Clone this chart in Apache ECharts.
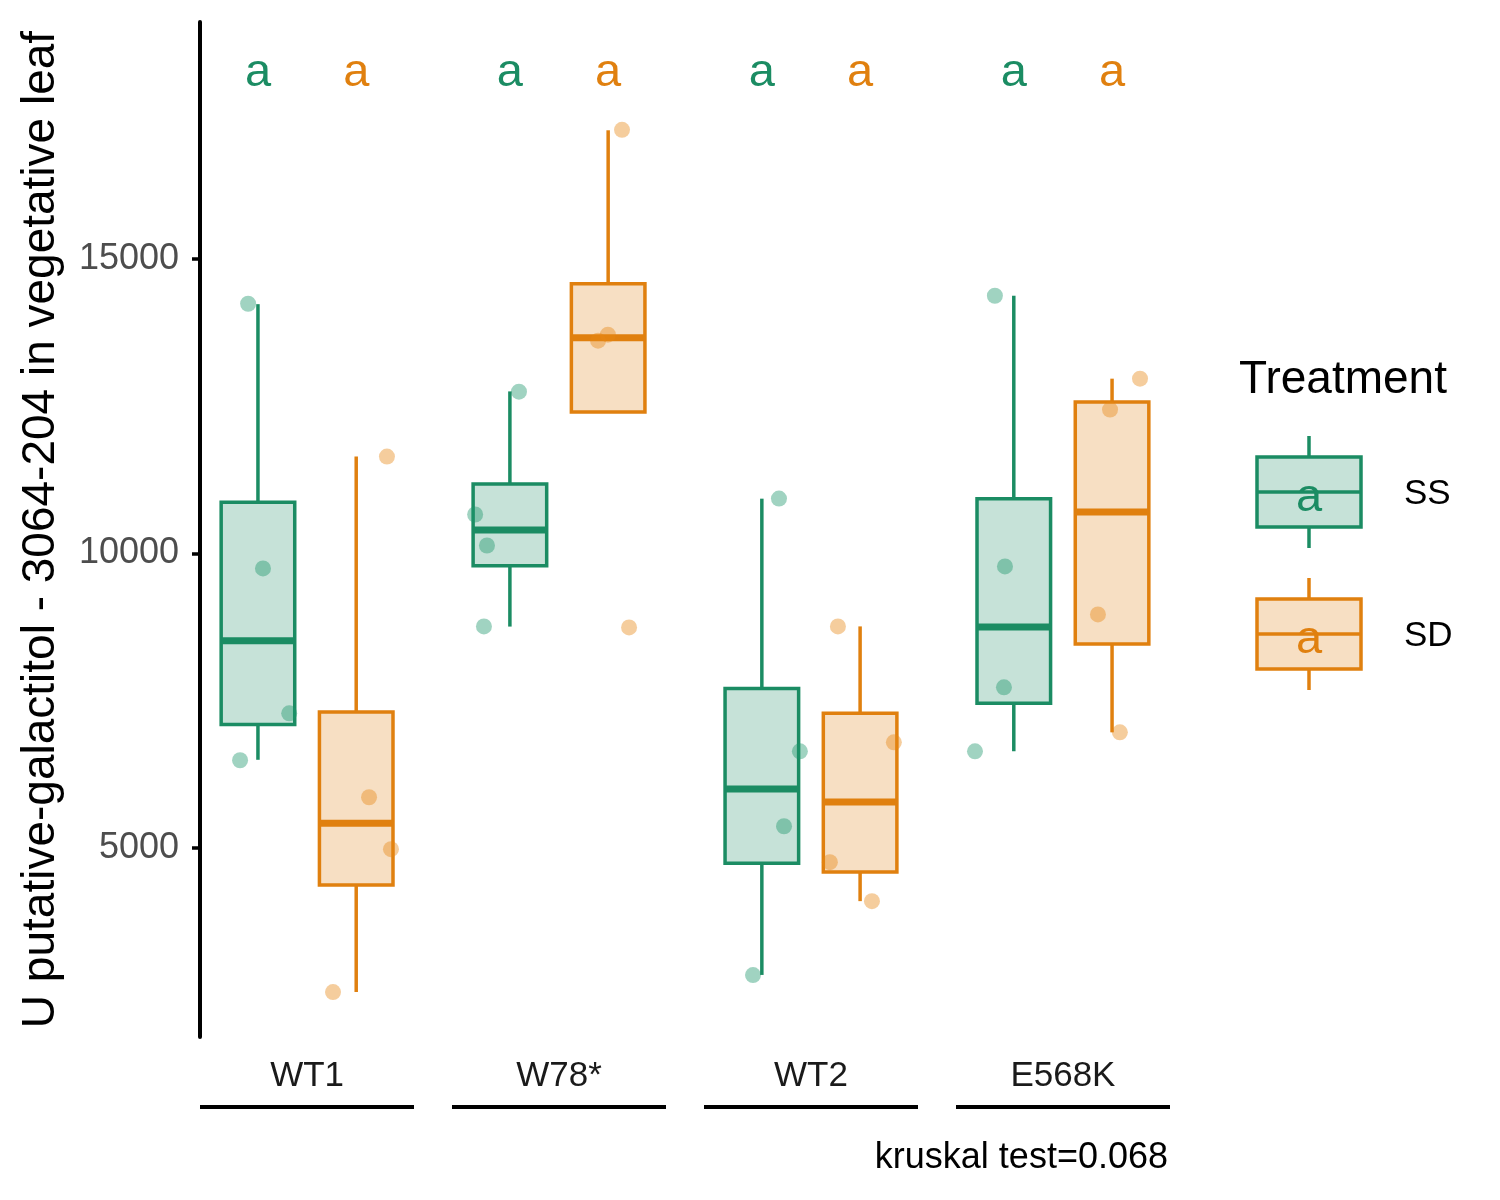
<!DOCTYPE html>
<html>
<head>
<meta charset="utf-8">
<script src="https://cdn.jsdelivr.net/npm/echarts@6/dist/echarts.min.js"></script>
<style>html,body{margin:0;padding:0;background:#fff}#c{width:1500px;height:1200px}</style>
</head>
<body>
<div id="c"></div>
<script>
// ---- data ----
const categories = ['WT1', 'W78*', 'WT2', 'E568K'];
const treatments = ['SS', 'SD'];
const yTicks = [5000, 10000, 15000];
// box stats per category: [lowerWhisker, Q1, median, Q3, upperWhisker]
const boxSS = [
  [6500, 7100, 8520, 10870, 14230],
  [8760, 9790, 10400, 11180, 12750],
  [2850, 4745, 6005, 7710, 10930],
  [6645, 7458, 8752, 10930, 14373]
];
const boxSD = [
  [2560, 4376, 5424, 7310, 11644],
  [12400, 12400, 13660, 14575, 17180],
  [4102, 4597, 5785, 7288, 8763],
  [6966, 8463, 10703, 12572, 12966]
];
// jittered points: values and horizontal jitter offsets (in category units)
const ptsSS = [
  [14237, 9746, 7288, 6492],
  [12746, 10661, 10136, 8763],
  [10932, 6644, 5373, 2847],
  [14373, 9780, 7729, 6644]
];
const jitSS = [
  [-0.234, -0.175, -0.071, -0.266],
  [-0.159, -0.333, -0.286, -0.298],
  [-0.127, -0.044, -0.107, -0.230],
  [-0.270, -0.230, -0.234, -0.349]
];
const ptsSD = [
  [11644, 5864, 4983, 2559],
  [17187, 13712, 13611, 8746],
  [8763, 6797, 4763, 4102],
  [12966, 12441, 8966, 6966]
];
const jitSD = [
  [0.317, 0.246, 0.333, 0.103],
  [0.250, 0.194, 0.155, 0.278],
  [0.107, 0.329, 0.075, 0.242],
  [0.306, 0.187, 0.139, 0.226]
];
const letterSS = ['a', 'a', 'a', 'a'];
const letterSD = ['a', 'a', 'a', 'a'];
const letterY = 18150;
const testLabel = 'kruskal test=0.068';
const yTitle = 'U putative-galactitol - 3064-204 in vegetative leaf';

// ---- styling ----
const GREEN = '#1B8C63', ORANGE = '#E0800F';
const FILL = {SS: 'rgba(27,140,99,0.25)', SD: 'rgba(224,128,15,0.25)'};
const PT = {SS: 'rgba(27,150,105,0.52)', SD: 'rgba(230,135,20,0.52)'};
const COL = {SS: GREEN, SD: ORANGE};
const DODGE = 0.195, BOXW = 0.292;
const FONT = 'Liberation Sans, Arial, sans-serif';

function boxData(stats, off) {
  return stats.map((s, i) => [i + 1 + off].concat(s));
}
function ptData(vals, jit) {
  const out = [];
  vals.forEach((arr, i) => arr.forEach((v, j) => out.push([i + 1 + jit[i][j], v])));
  return out;
}
function letterData(letters, off) {
  return letters.map((l, i) => [i + 1 + off, letterY, l]);
}

function boxRender(key) {
  return function (params, api) {
    const x = api.value(0);
    const lo = api.coord([x, api.value(1)]);
    const q1 = api.coord([x, api.value(2)]);
    const md = api.coord([x, api.value(3)]);
    const q3 = api.coord([x, api.value(4)]);
    const hi = api.coord([x, api.value(5)]);
    const left = api.coord([x - BOXW / 2, 0])[0];
    const right = api.coord([x + BOXW / 2, 0])[0];
    const cx = lo[0];
    const col = COL[key];
    const ls = {stroke: col, lineWidth: 3.5};
    const children = [];
    if (Math.abs(lo[1] - q1[1]) > 0.5) children.push({type: 'line', shape: {x1: cx, y1: lo[1], x2: cx, y2: q1[1]}, style: ls});
    if (Math.abs(hi[1] - q3[1]) > 0.5) children.push({type: 'line', shape: {x1: cx, y1: q3[1], x2: cx, y2: hi[1]}, style: ls});
    children.push({type: 'rect', shape: {x: left, y: q3[1], width: right - left, height: q1[1] - q3[1]},
      style: {fill: FILL[key], stroke: col, lineWidth: 3.5}});
    children.push({type: 'line', shape: {x1: left, y1: md[1], x2: right, y2: md[1]}, style: {stroke: col, lineWidth: 7}});
    return {type: 'group', children: children};
  };
}
function letterRender(key) {
  return function (params, api) {
    const p = api.coord([api.value(0), api.value(1)]);
    return {type: 'text', x: p[0], y: p[1],
      style: {text: api.value(2), fill: COL[key], font: '47px ' + FONT, align: 'center', verticalAlign: 'middle'}};
  };
}

const chart = echarts.init(document.getElementById('c'), null, {renderer: 'canvas'});

// legend glyph builder (pixel decoration)
function legendKey(y0, key) {
  const c = COL[key];
  return [
    {type: 'line', shape: {x1: 1309, y1: y0 - 21, x2: 1309, y2: y0}, style: {stroke: c, lineWidth: 3.5}},
    {type: 'line', shape: {x1: 1309, y1: y0 + 70, x2: 1309, y2: y0 + 91}, style: {stroke: c, lineWidth: 3.5}},
    {type: 'rect', shape: {x: 1257, y: y0, width: 104, height: 70}, style: {fill: FILL[key], stroke: c, lineWidth: 3.5}},
    {type: 'line', shape: {x1: 1257, y1: y0 + 35, x2: 1361, y2: y0 + 35}, style: {stroke: c, lineWidth: 3.5}},
    {type: 'text', x: 1309, y: y0 + 41, style: {text: 'a', fill: c, font: '47px ' + FONT, align: 'center', verticalAlign: 'middle'}},
    {type: 'text', x: 1404, y: y0 + 37, style: {text: key, fill: '#000', font: '35px ' + FONT, align: 'left', verticalAlign: 'middle'}}
  ];
}

const graphics = [];
categories.forEach((c, i) => {
  graphics.push({type: 'line', shape: {x1: 200 + 252 * i, y1: 1107, x2: 414 + 252 * i, y2: 1107}, style: {stroke: '#000', lineWidth: 4}});
});
graphics.push({type: 'text', x: 1168, y: 1158, style: {text: testLabel, fill: '#000', font: '36px ' + FONT, align: 'right', verticalAlign: 'middle'}});
graphics.push({type: 'text', x: 1239, y: 380, style: {text: 'Treatment', fill: '#000', font: '46px ' + FONT, align: 'left', verticalAlign: 'middle'}});
legendKey(457, 'SS').forEach(g => graphics.push(g));
legendKey(599, 'SD').forEach(g => graphics.push(g));

chart.setOption({
  animation: false,
  backgroundColor: '#fff',
  grid: {left: 200, right: 330, top: 22, bottom: 163, containLabel: false},
  xAxis: {
    type: 'value', min: 0.575, max: 4.425,
    axisLine: {show: false}, axisTick: {show: false}, splitLine: {show: false},
    axisLabel: {customValues: [1, 2, 3, 4], formatter: v => categories[Math.round(v) - 1],
      fontSize: 35, color: '#1a1a1a', fontFamily: FONT, margin: 22}
  },
  yAxis: {
    type: 'value', min: 1797, max: 19017,
    name: yTitle, nameLocation: 'middle', nameGap: 136,
    nameTextStyle: {fontSize: 46, color: '#000', fontFamily: FONT},
    axisLine: {show: true, lineStyle: {color: '#000', width: 4}},
    axisTick: {show: true, customValues: yTicks, length: 8, lineStyle: {color: '#000', width: 3.5}},
    axisLabel: {customValues: yTicks, formatter: v => String(v), fontSize: 36, color: '#4d4d4d', fontFamily: FONT, margin: 21},
    splitLine: {show: false}
  },
  graphic: graphics,
  series: [
    {type: 'custom', name: 'SS', renderItem: boxRender('SS'), data: boxData(boxSS, -DODGE), encode: {x: 0, y: [1, 2, 3, 4, 5]}, z: 2},
    {type: 'custom', name: 'SD', renderItem: boxRender('SD'), data: boxData(boxSD, DODGE), encode: {x: 0, y: [1, 2, 3, 4, 5]}, z: 2},
    {type: 'scatter', data: ptData(ptsSS, jitSS), symbolSize: 16, itemStyle: {color: PT.SS}, z: 3},
    {type: 'scatter', data: ptData(ptsSD, jitSD), symbolSize: 16, itemStyle: {color: PT.SD}, z: 3},
    {type: 'custom', renderItem: letterRender('SS'), data: letterData(letterSS, -DODGE), encode: {x: 0, y: 1}, z: 4},
    {type: 'custom', renderItem: letterRender('SD'), data: letterData(letterSD, DODGE), encode: {x: 0, y: 1}, z: 4}
  ]
});
</script>
</body>
</html>
